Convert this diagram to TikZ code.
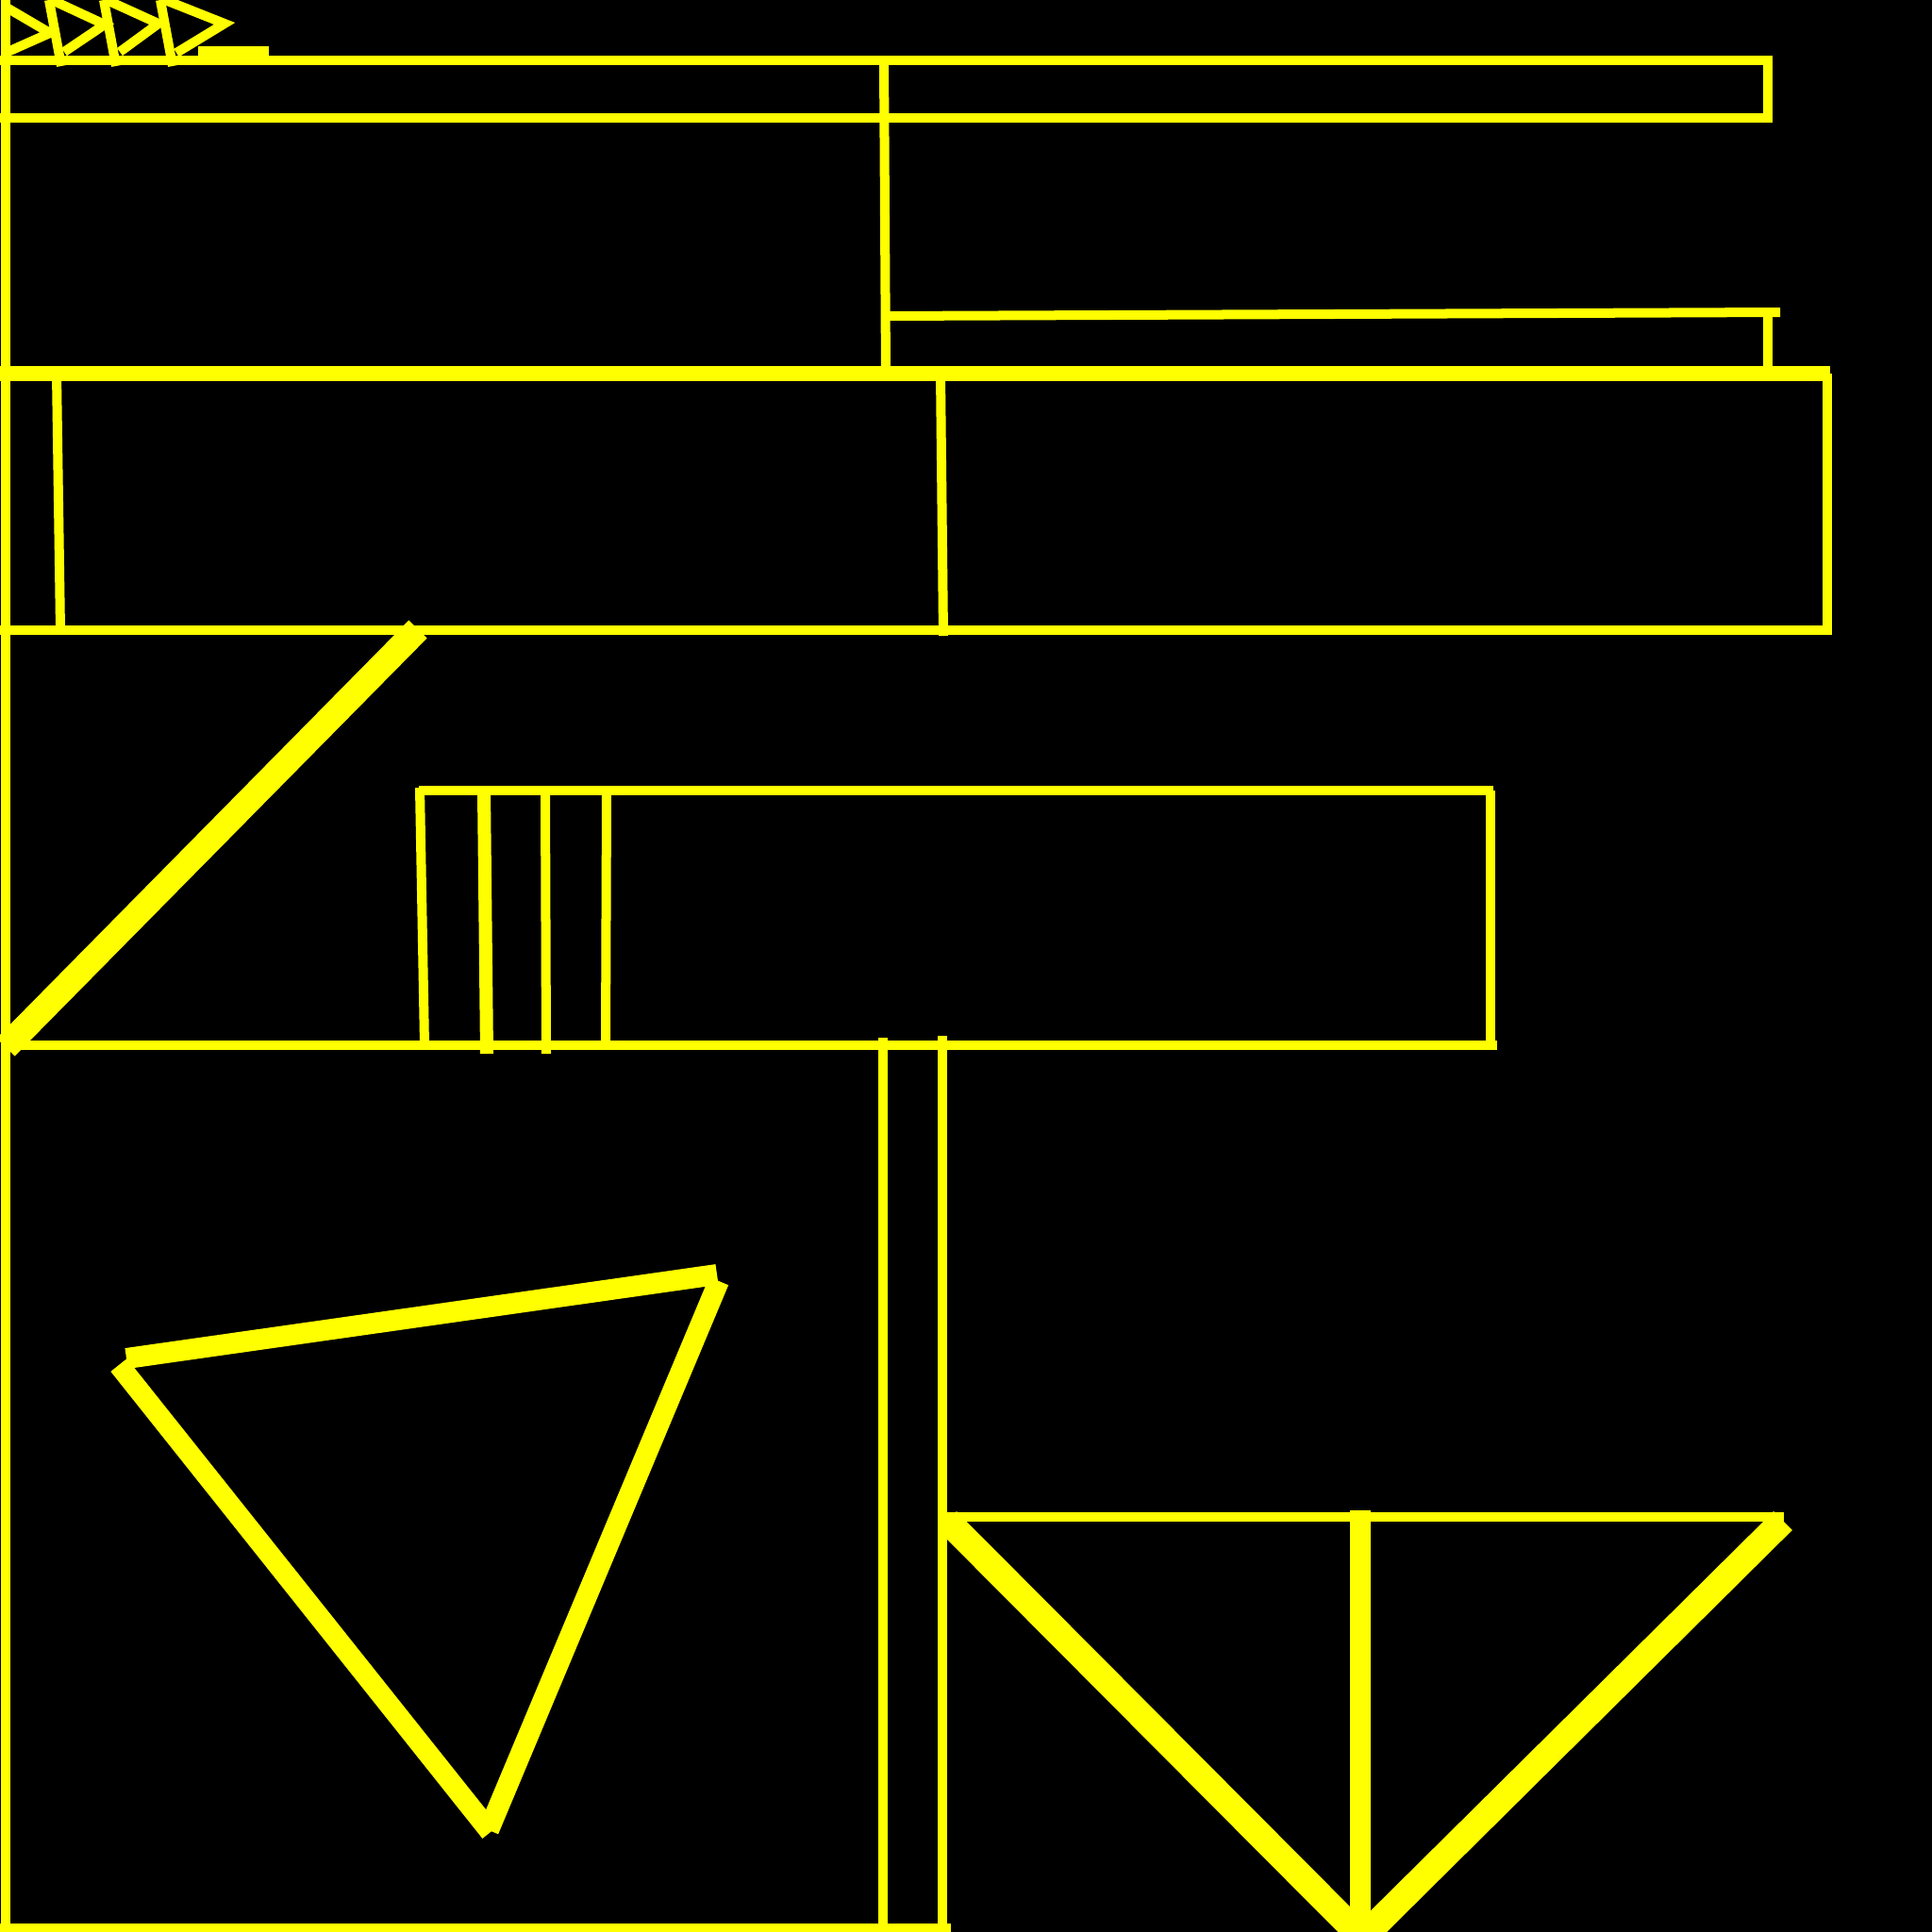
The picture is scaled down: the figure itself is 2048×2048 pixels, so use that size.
\documentclass[tikz,border=0pt]{standalone}
\definecolor{yel}{RGB}{255,255,0}
\begin{document}
\begin{tikzpicture}[x=0.01cm,y=-0.01cm,
  ln/.style={draw=yel,line width=0.1cm,line cap=butt},
  lnthick/.style={draw=yel,line width=0.16cm,line cap=butt},
  lntri/.style={draw=yel,line width=0.22cm,line cap=butt},
  lnwide/.style={draw=yel,line width=0.28cm,line cap=butt},
  lnheavy/.style={draw=yel,line width=0.27cm,line cap=butt}]
\fill[black] (0,0) rectangle (2048,2048);
\useasboundingbox (0,0) rectangle (2048,2048);
% left border
\draw[ln] (6,0) -- (6,2048);
% truss top-left
\draw[ln] (7,8) -- (53,35) -- (8,55);
\draw[ln] (52,0) -- (65,70);
\draw[ln] (55,0) -- (111,26) -- (68,55);
\draw[ln] (110,0) -- (123,70);
\draw[ln] (113,0) -- (168,25) -- (127,55);
\draw[ln] (170,0) -- (183,70);
\draw[ln] (175,0) -- (238,25) -- (187,56);
\draw[ln] (210,54) -- (285,54);
% top band
\draw[ln] (0,64) -- (1879,64);
\draw[ln] (0,125) -- (1879,125);
\draw[ln] (1874,59) -- (1874,130);
\draw[ln] (937,64) -- (939,396);
\draw[ln] (939,335) -- (1887,331);
\draw[ln] (1874,332) -- (1874,396);
% lower rectangle of upper block
\draw[lnthick] (0,396) -- (1940,396);
\draw[ln] (1937,396) -- (1937,673);
\draw[ln] (0,668) -- (1940,668);
\draw[ln] (60,396) -- (64,668);
\draw[ln] (997,396) -- (1000,674);
% diagonal
\draw[lnheavy] (443,667) -- (6,1110);
% middle rectangle
\draw[ln] (444,838) -- (1583,838);
\draw[ln] (1580,838) -- (1580,1108);
\draw[ln] (6,1108) -- (1587,1108);
\draw[ln] (445,835) -- (450,1108);
\draw[draw=yel,line width=0.14cm] (513,838) -- (516,1117);
\draw[ln] (578,838) -- (579,1117);
\draw[ln] (643,838) -- (642,1108);
% lower verticals and base
\draw[ln] (936,1100) -- (936,2048);
\draw[ln] (999,1098) -- (999,2048);
\draw[ln] (0,2044) -- (1008,2044);
% left triangle
\draw[lntri] (134,1440) -- (760,1351);
\draw[lntri] (762,1358) -- (518,1940);
\draw[lntri] (126,1447) -- (520,1942);
% right triangle
\draw[ln] (999,1608) -- (1891,1608);
\draw[lntri] (1442,1601) -- (1442,2048);
\draw[lnwide] (1004,1612) -- (1444,2054);
\draw[lnwide] (1890,1612) -- (1444,2054);
\end{tikzpicture}
\end{document}
